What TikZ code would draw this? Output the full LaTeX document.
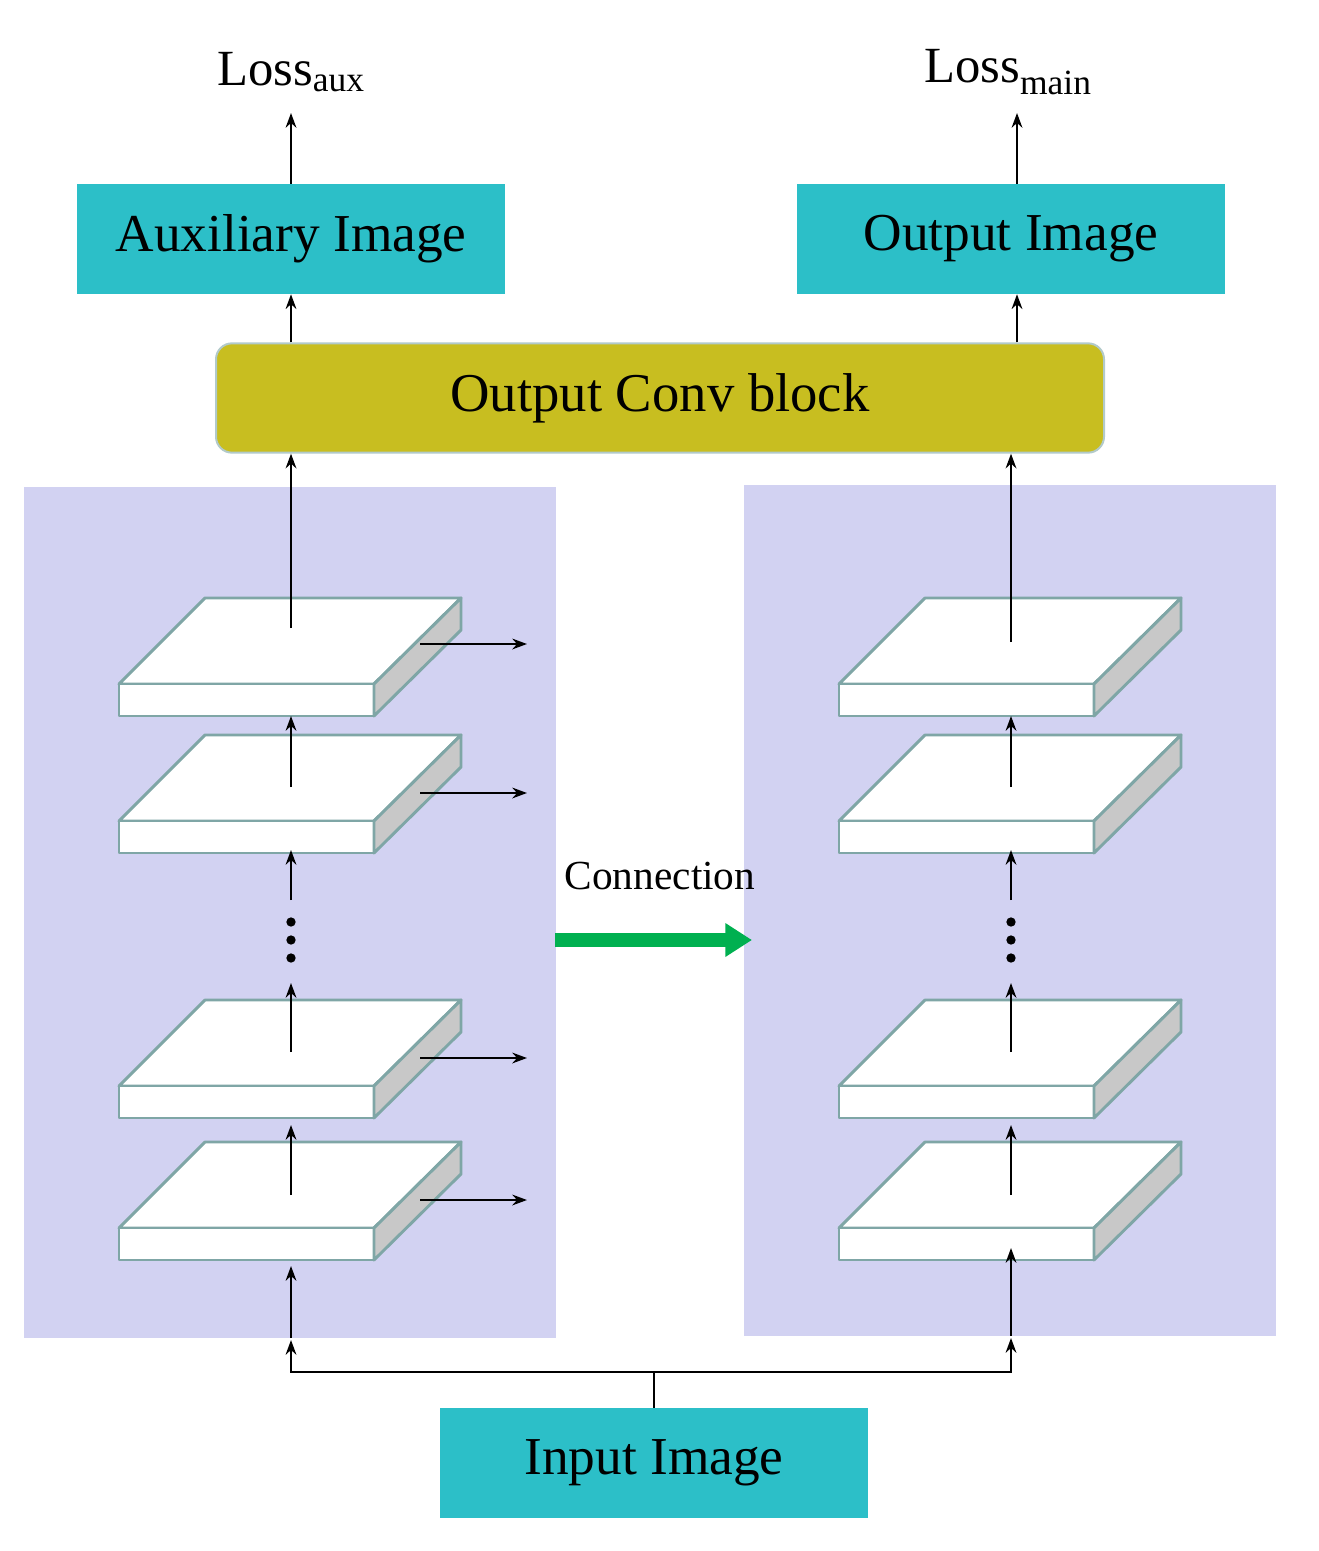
\documentclass[tikz,border=0pt]{standalone}
\usepackage{fontspec}
\setmainfont{Liberation Serif}
\usetikzlibrary{arrows.meta}
\definecolor{panel}{HTML}{D2D2F2}
\definecolor{teal}{HTML}{2CBFC8}
\definecolor{olive}{HTML}{C8BE20}
\definecolor{edge}{HTML}{7FA6A6}
\definecolor{side}{HTML}{C8C8C8}
\definecolor{grn}{HTML}{00B050}
\begin{document}
\begin{tikzpicture}[x=0.75pt,y=-0.75pt,
  box/.style={fill=teal,draw=none,minimum width=321pt,minimum height=82.5pt,inner sep=0pt,font=\fontsize{40}{44}\selectfont},
  arr/.style={line width=2.2pt,-{Stealth[length=11pt,width=8pt]}},
  slabe/.style={draw=edge,line width=2.2pt,line join=round}]
\fill[white] (0,0) rectangle (1319,1551);
\useasboundingbox (0,0) rectangle (1319,1551);
\fill[panel] (24,487) rectangle (556,1338);
\fill[panel] (744,485) rectangle (1276,1336);
\node[box] (aux) at (291,239) {Auxiliary Image};
\node[box] (out) at (1011,239) {Output Image};
\node[box] (in) at (654,1463) {Input Image};
\node[fill=olive,draw=edge!60,line width=1.5pt,rounded corners=12pt,minimum width=666pt,minimum height=82pt,inner sep=0pt,font=\fontsize{41}{45}\selectfont] (conv) at (660,398) {Output Conv block};
\node[font=\fontsize{38}{42}\selectfont] (laux) at (291,72) {Loss\textsubscript{aux}};
\node[font=\fontsize{38}{42}\selectfont] (lmain) at (1008,72) {Loss\textsubscript{main}};
\node[font=\fontsize{31}{35}\selectfont] (con) at (660,876) {Connection};
\newcommand{\slab}[2]{%
 \begin{scope}[shift={(#1,#2)}]
 \filldraw[slabe,fill=white] (0,86) -- (86,0) -- (342,0) -- (255,86) -- cycle;
 \filldraw[slabe,fill=white] (0,86) rectangle (255,118);
 \filldraw[slabe,fill=side] (255,86) -- (342,0) -- (342,32) -- (255,118) -- cycle;
 \end{scope}}
\foreach \y in {598,735,1000,1142}{\slab{119}{\y}\slab{839}{\y}}
% vertical arrows
\coordinate (a1) at (291,184); \coordinate (a1e) at (291,113);
\draw[arr] (aux.north) -- (a1e);
\draw[arr] (out.north -| 1017,0) -- (1017,113);
\draw[arr] (conv.north -| 291,0) -- (aux.south -| 291,0);
\draw[arr] (conv.north -| 1017,0) -- (out.south -| 1017,0);
\draw[arr] (291,628) -- (conv.south -| 291,0);
\draw[arr] (1011,642) -- (conv.south -| 1011,0);
\foreach \x in {291,1011}{
 \draw[arr] (\x,787) -- (\x,716);
 \draw[arr] (\x,900) -- (\x,850);
 \draw[arr] (\x,1052) -- (\x,983);
 \draw[arr] (\x,1195) -- (\x,1125);
 \foreach \d in {922,940,958} \fill (\x,\d) circle (3.5pt);
}
\draw[arr] (291,1338) -- (291,1266);
\draw[arr] (1011,1336) -- (1011,1248);
\foreach \y in {644,793,1058,1200} \draw[arr] (420,\y) -- (527,\y);
\draw[line width=2.2pt] (in.north) -- (654,1372);
\draw[arr] (654,1372) -| (291,1340);
\draw[arr] (654,1372) -| (1011,1338);
\draw[grn,line width=10pt,-{Triangle[length=20pt,width=24pt]}] (555,940) -- (752,940);
\end{tikzpicture}
\end{document}
